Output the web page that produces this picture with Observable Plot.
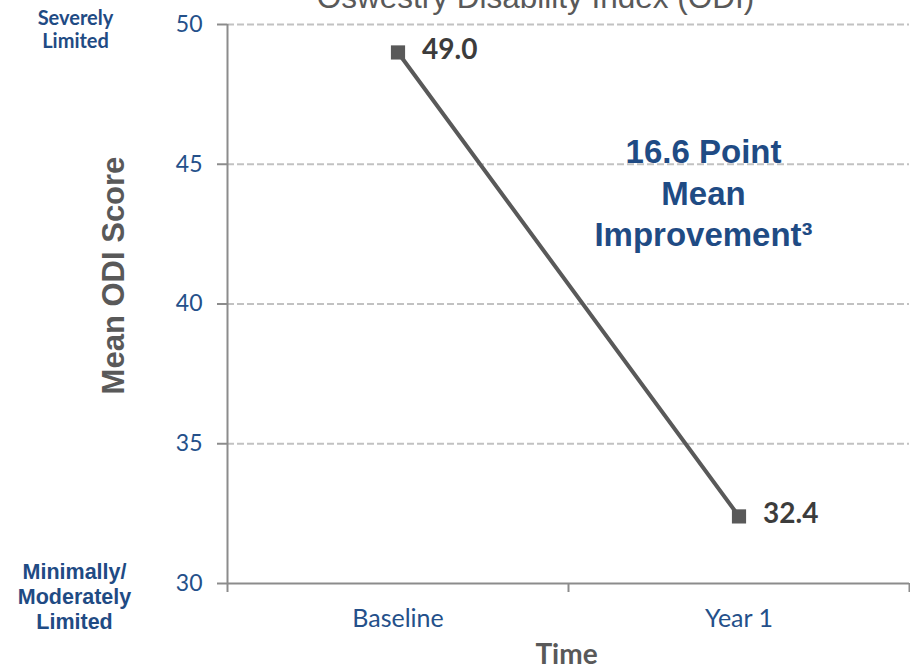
<!DOCTYPE html>
<html>
<head>
<meta charset="utf-8">
<script src="https://cdn.jsdelivr.net/npm/d3@7"></script>
<script src="https://cdn.jsdelivr.net/npm/@observablehq/plot@0.6"></script>
<style>
  html, body { margin: 0; padding: 0; background: #fff; }
  #chart { width: 910px; height: 669px; overflow: hidden; }
  #chart svg { overflow: hidden; }
</style>
</head>
<body>
<div id="chart"></div>
<script>
const title = "Oswestry Disability Index (ODI)";
const categories = ["Baseline", "Year 1"];
const meanODI = [49.0, 32.4];
const yTicks = [30, 35, 40, 45, 50];
const topBandLabel = "Severely\nLimited";
const bottomBandLabel = "Minimally/\nModerately\nLimited";
const yAxisTitle = "Mean ODI Score";
const xAxisTitle = "Time";

const improvement = (meanODI[0] - meanODI[meanODI.length - 1]).toFixed(1);
const annotation = `${improvement} Point\nMean\nImprovement³`;

const data = categories.map((c, i) => ({category: c, idx: i + 0.5, value: meanODI[i]}));

const blue = "#24508a";
const darkBlue = "#1f4b84";
const gray = "#595959";
const axisGray = "#8c8c8c";
const arial = "Liberation Sans, Arial, sans-serif";

const chart = Plot.plot({
  width: 910,
  height: 669,
  marginLeft: 227,
  marginRight: 1,
  marginTop: 24,
  marginBottom: 86,
  style: {fontFamily: "Lato", background: "#fff"},
  x: {domain: [0, categories.length], axis: null},
  y: {domain: [yTicks[0], yTicks[yTicks.length - 1]], axis: null},
  marks: [
    Plot.ruleY(yTicks.slice(1), {stroke: "#c2c2c2", strokeWidth: 2, strokeDasharray: "7,3"}),
    Plot.ruleY([yTicks[0]], {stroke: axisGray, strokeWidth: 2}),
    Plot.ruleX([0], {stroke: axisGray, strokeWidth: 2}),
    Plot.axisX({ticks: d3.range(categories.length + 1), tickSize: 9, stroke: axisGray, strokeWidth: 2, tickFormat: () => "", label: null}),
    Plot.axisY({ticks: yTicks, tickSize: 10, tickPadding: 15, stroke: axisGray, strokeWidth: 2, fill: blue, fontSize: 23, tickFormat: d => d, label: null}),
    Plot.text(data, {x: "idx", text: "category", frameAnchor: "bottom", dy: 43, fontSize: 25, fill: blue}),
    Plot.line(data, {x: "idx", y: "value", stroke: gray, strokeWidth: 4}),
    Plot.dot(data, {x: "idx", y: "value", symbol: "square", r: 8, fill: gray}),
    Plot.text(data, {x: "idx", y: "value", text: d => d.value.toFixed(1), dx: 24, dy: -2, textAnchor: "start", fontSize: 28, fontWeight: "bold", fill: "#3c3c3c"}),
    Plot.text([annotation], {frameAnchor: "top-left", dx: 476, dy: 167, lineAnchor: "middle", textAnchor: "middle", fontFamily: arial, fontSize: 33, fontWeight: "bold", lineHeight: 1.25, fill: darkBlue}),
    Plot.text([title], {frameAnchor: "top", dx: -33, dy: -27, lineAnchor: "middle", fontFamily: arial, fontSize: 31.5, fill: gray}),
    Plot.text([yAxisTitle], {frameAnchor: "left", dx: -113, dy: -28.5, rotate: -90, lineAnchor: "middle", textAnchor: "middle", fontFamily: arial, fontSize: 31, fontWeight: "bold", fill: gray}),
    Plot.text([xAxisTitle], {frameAnchor: "bottom", dx: -2, dy: 72, lineAnchor: "middle", fontSize: 28, fontWeight: "bold", fill: gray}),
    Plot.text([topBandLabel], {frameAnchor: "top-left", dx: -152, dy: -15, lineAnchor: "top", textAnchor: "middle", fontSize: 20, fontWeight: "bold", lineHeight: 1.12, fill: darkBlue}),
    Plot.text([bottomBandLabel], {frameAnchor: "bottom-left", dx: -153, dy: -22, lineAnchor: "top", textAnchor: "middle", fontFamily: arial, fontSize: 21.5, fontWeight: "bold", lineHeight: 1.16, fill: darkBlue})
  ]
});
document.getElementById("chart").appendChild(chart);
</script>
</body>
</html>
